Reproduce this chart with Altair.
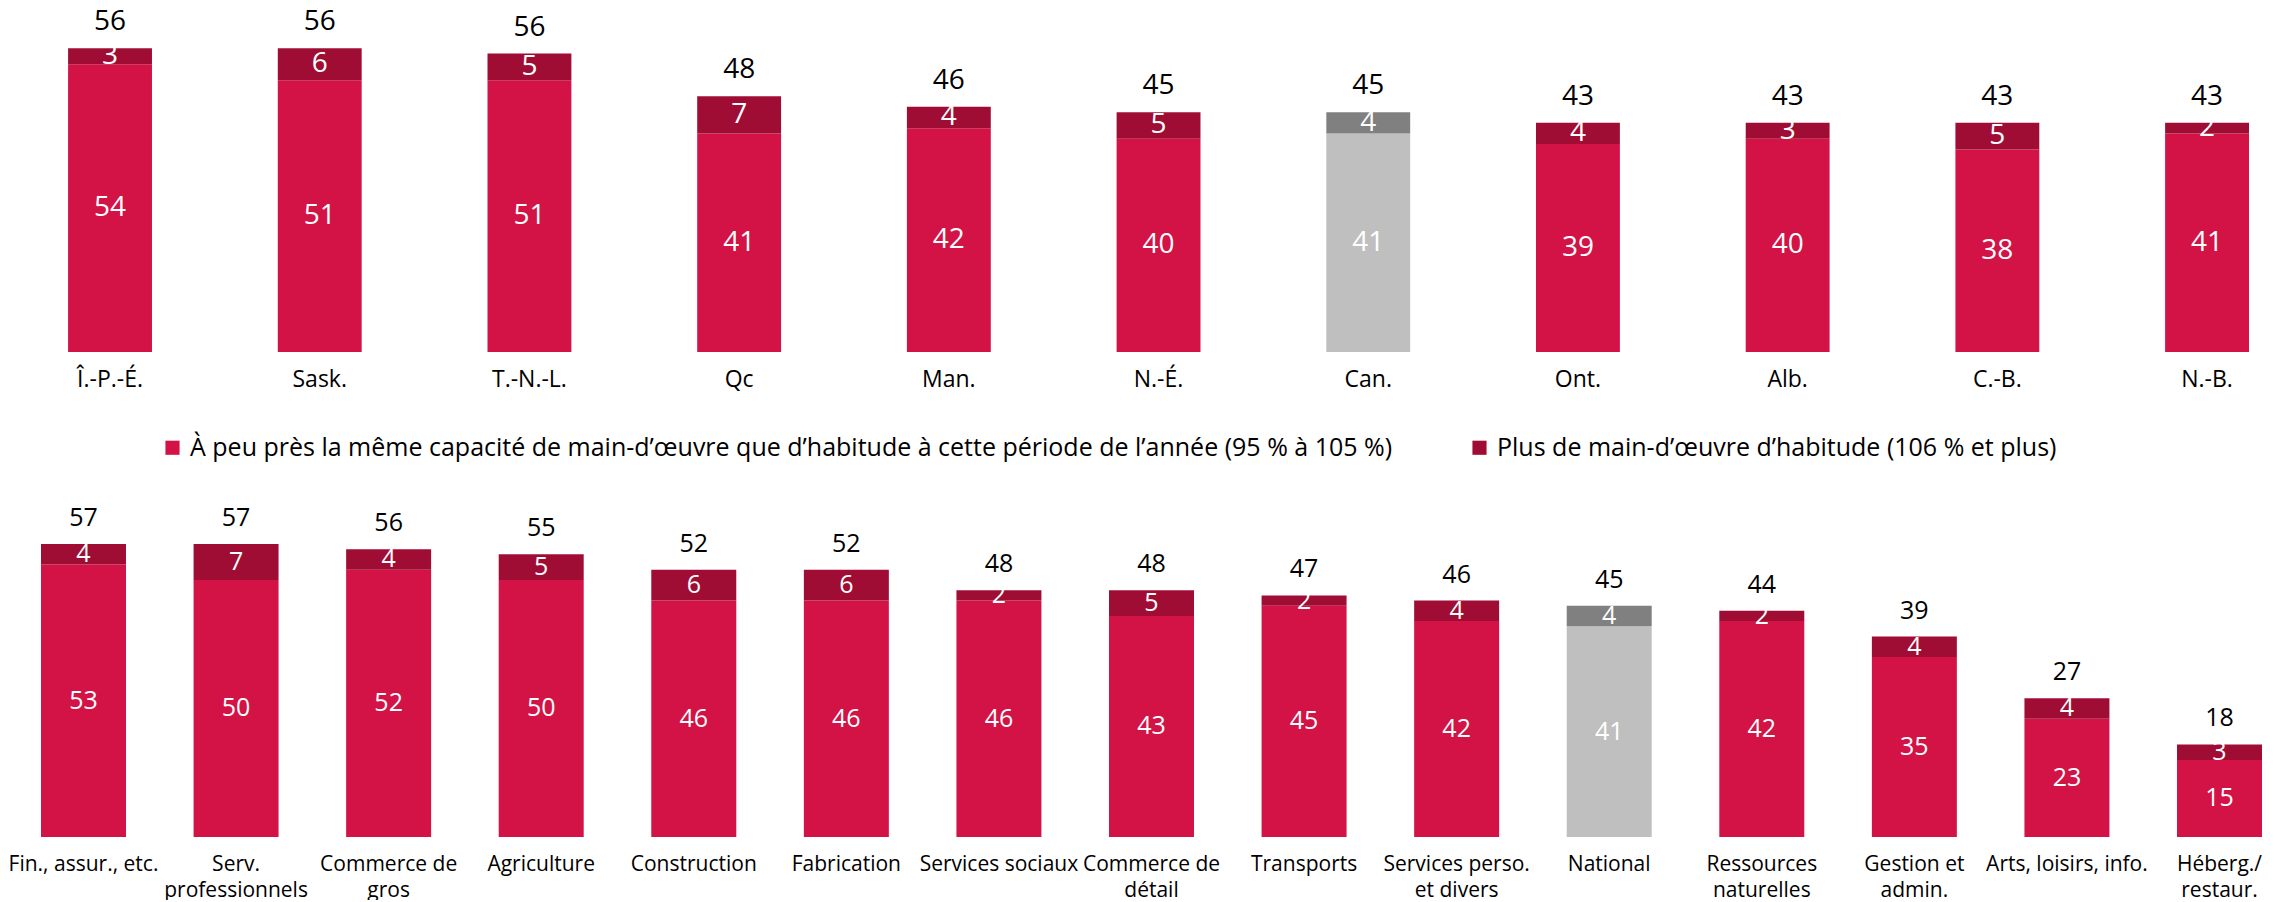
import altair as alt
import pandas as pd

FONT = "Open Sans"

# ---- data -------------------------------------------------------------
prov = ["Î.-P.-É.", "Sask.", "T.-N.-L.", "Qc", "Man.", "N.-É.", "Can.", "Ont.", "Alb.", "C.-B.", "N.-B."]
prov_same = [54, 51, 51, 41, 42, 40, 41, 39, 40, 38, 41]
prov_more = [3, 6, 5, 7, 4, 5, 4, 4, 3, 5, 2]
prov_total = [56, 56, 56, 48, 46, 45, 45, 43, 43, 43, 43]

sect = ["Fin., assur., etc.", "Serv.|professionnels", "Commerce de|gros", "Agriculture",
        "Construction", "Fabrication", "Services sociaux", "Commerce de|détail", "Transports",
        "Services perso.|et divers", "National", "Ressources|naturelles", "Gestion et|admin.",
        "Arts, loisirs, info.", "Héberg./|restaur."]
sect_same = [53, 50, 52, 50, 46, 46, 46, 43, 45, 42, 41, 42, 35, 23, 15]
sect_more = [4, 7, 4, 5, 6, 6, 2, 5, 2, 4, 4, 2, 4, 4, 3]
sect_total = [57, 57, 56, 55, 52, 52, 48, 48, 47, 46, 45, 44, 39, 27, 18]

national = ["Can.", "National"]

LBL_SAME = "À peu près la même capacité de main-d’œuvre que d’habitude à cette période de l’année (95 % à 105 %)"
LBL_MORE = "Plus de main-d’œuvre d’habitude (106 % et plus)"
NAT_SAME = "Canada – même capacité"
NAT_MORE = "Canada – plus"

series_domain = [LBL_SAME, LBL_MORE, NAT_SAME, NAT_MORE]
series_colors = ["#D31245", "#A00D34", "#BFBFBF", "#808080"]

legend = alt.Legend(
    values=[LBL_SAME, LBL_MORE], orient="none", legendX=119, legendY=426,
    direction="horizontal", title=None, symbolType="square", symbolSize=200,
    symbolStrokeWidth=0, labelFontSize=25, labelFont=FONT, labelColor="black",
    labelLimit=2000, columnPadding=74, labelOffset=5,
)


def panel(cats, same, more, total, W, H, ymax, pin, pout, align,
          fs_val, fs_in, fs_lab, lab_pad, lab_lh, dy_top):
    rows = []
    tops = []
    for c, s, m, t in zip(cats, same, more, total):
        nat = c in national
        rows.append(dict(cat=c, serie=NAT_SAME if nat else LBL_SAME, val=s,
                         lo=0, hi=s, mid=s / 2))
        rows.append(dict(cat=c, serie=NAT_MORE if nat else LBL_MORE, val=m,
                         lo=s, hi=s + m, mid=s + m / 2))
        tops.append(dict(cat=c, top=s + m, total=t))
    df = pd.DataFrame(rows)
    tdf = pd.DataFrame(tops)

    xs = alt.Scale(paddingInner=pin, paddingOuter=pout, align=align)
    xaxis = alt.Axis(title=None, labelAngle=0, ticks=False, domain=False,
                     labelExpr="split(datum.label, '|')", labelFontSize=fs_lab,
                     labelFont=FONT, labelColor="black", labelPadding=lab_pad,
                     labelLineHeight=lab_lh, labelLimit=400)
    x = alt.X("cat:N", sort=cats, scale=xs, axis=xaxis)
    ys = alt.Scale(domain=[0, ymax], nice=False, zero=True)

    bars = alt.Chart(df).mark_bar().encode(
        x=x,
        y=alt.Y("lo:Q", scale=ys, axis=None),
        y2="hi:Q",
        color=alt.Color("serie:N", scale=alt.Scale(domain=series_domain, range=series_colors),
                        legend=legend),
    )
    inner = alt.Chart(df).mark_text(color="white", baseline="middle", fontSize=fs_in,
                                     font=FONT).encode(
        x=alt.X("cat:N", sort=cats),
        y=alt.Y("mid:Q"),
        text="val:Q",
    )
    top = alt.Chart(tdf).mark_text(color="black", baseline="alphabetic", dy=dy_top,
                                   fontSize=fs_val, font=FONT).encode(
        x=alt.X("cat:N", sort=cats),
        y=alt.Y("top:Q"),
        text="total:Q",
    )
    return alt.layer(bars, inner, top).properties(width=W, height=H)


top_panel = panel(prov, prov_same, prov_more, prov_total, W=2208, H=343, ymax=64.35,
                  pin=0.6, pout=0.0646, align=1, fs_val=28, fs_in=28, fs_lab=23,
                  lab_pad=16, lab_lh=26, dy_top=-18)
bottom_panel = panel(sect, sect_same, sect_more, sect_total, W=2221, H=339, ymax=65.95,
                     pin=0.443, pout=0, align=0.5, fs_val=25, fs_in=25, fs_lab=21,
                     lab_pad=16, lab_lh=26, dy_top=-18)

chart = alt.vconcat(top_panel, bottom_panel, spacing=107).properties(
    padding={"left": 0, "top": 0, "right": 0, "bottom": 0}
).configure(font=FONT).configure_view(stroke=None)

chart.save("out.html", embed_options={"renderer": "svg", "actions": False})
